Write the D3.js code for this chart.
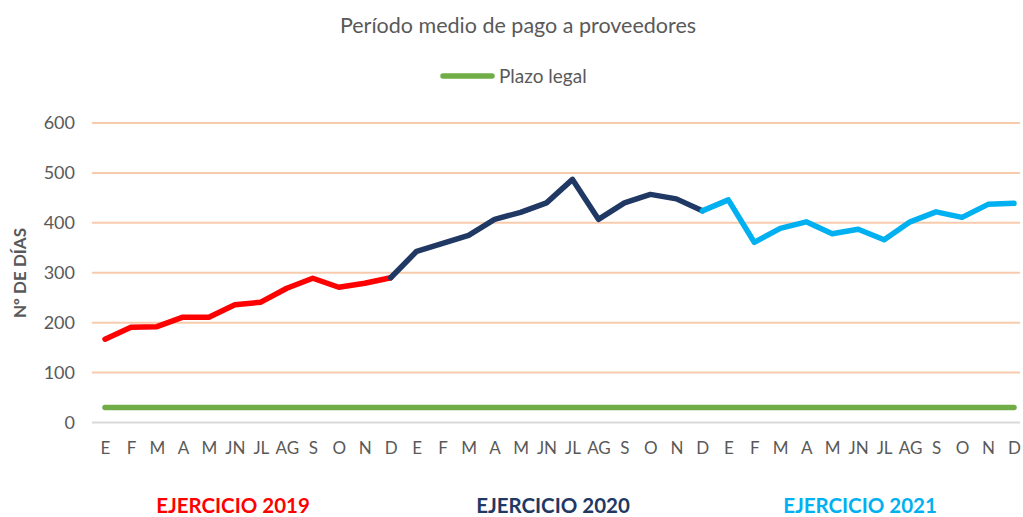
<!DOCTYPE html>
<head>
  <meta charset="utf-8">
  <script src="https://d3js.org/d3.v7.min.js"></script>
  <style>
    body { margin: 0; background: #fff; }
    svg { display: block; font-family: Lato, "Open Sans", sans-serif; }
  </style>
</head>

<body>
  <svg width="1023" height="517"></svg>
  <script>
    // data
    var months = ["E", "F", "M", "A", "M", "JN", "JL", "AG", "S", "O", "N", "D"];
    var years = ["2019", "2020", "2021"];
    var yearColors = ["#ff0000", "#1f3864", "#00b0f0"];
    var v2019 = [167, 191, 192, 211, 211, 236, 241, 269, 289, 271, 279, 290];
    var v2020 = [343, 359, 375, 407, 421, 440, 487, 407, 440, 457, 448, 424];
    var v2021 = [446, 361, 389, 402, 378, 387, 366, 402, 422, 411, 437, 439];
    var plazoLegal = 30;
    var yTicks = [0, 100, 200, 300, 400, 500, 600];

    // options
    var margin = { top: 123, right: 3, bottom: 94, left: 92 };
    var width = 1023, height = 517;

    var svg = d3.select('svg');

    var cats = [];
    years.forEach(function(y) {
      months.forEach(function(m, mi) { cats.push(y + '-' + mi); });
    });
    var values = v2019.concat(v2020, v2021);
    var points = values.map(function(v, i) { return { key: cats[i], v: v }; });

    // scales
    var xScale = d3.scalePoint()
      .domain(cats)
      .range([105, 1014]);
    var yScale = d3.scaleLinear()
      .domain([0, 600])
      .range([height - margin.bottom - 0.5, margin.top]);

    // grid
    svg.append('g').selectAll('line')
      .data(yTicks)
      .enter().append('line')
      .attr('x1', margin.left)
      .attr('x2', width - margin.right)
      .attr('y1', function(d) { return yScale(d); })
      .attr('y2', function(d) { return yScale(d); })
      .attr('stroke', function(d) { return d === 0 ? '#d9d9d9' : '#f8cbad'; })
      .attr('stroke-width', 2);

    // y axis labels
    var yAxis = d3.axisLeft(yScale).tickValues(yTicks).tickSize(0).tickPadding(0);
    var yg = svg.append('g')
      .attr('transform', 'translate(' + [75, 0] + ')')
      .call(yAxis);
    yg.select('.domain').remove();
    yg.selectAll('text')
      .attr('fill', '#595959')
      .style('font-size', '18px')
      .style('font-family', 'Lato, sans-serif');

    // x axis labels
    var xAxis = d3.axisBottom(xScale).tickSize(0).tickPadding(0)
      .tickFormat(function(d) { return months[+d.split('-')[1]]; });
    var xg = svg.append('g')
      .attr('transform', 'translate(' + [0, 442] + ')')
      .call(xAxis);
    xg.select('.domain').remove();
    xg.selectAll('text')
      .attr('fill', '#595959')
      .style('font-size', '17px')
      .style('font-family', 'Lato, sans-serif');

    // plazo legal line
    var line = d3.line()
      .x(function(d) { return xScale(d.key); })
      .y(function(d) { return yScale(d.v); });

    svg.append('path')
      .datum(cats.map(function(c) { return { key: c, v: plazoLegal }; }))
      .attr('d', line)
      .attr('fill', 'none')
      .attr('stroke', '#70ad47')
      .attr('stroke-width', 5.5)
      .attr('stroke-linecap', 'round');

    // year segments
    years.forEach(function(y, yi) {
      var start = yi === 0 ? 0 : yi * 12 - 1;
      var seg = points.slice(start, yi * 12 + 12);
      svg.append('path')
        .datum(seg)
        .attr('d', line)
        .attr('fill', 'none')
        .attr('stroke', yearColors[yi])
        .attr('stroke-width', 5.5)
        .attr('stroke-linejoin', 'round')
        .attr('stroke-linecap', 'round');
    });

    // title
    svg.append('text')
      .attr('x', 518).attr('y', 33)
      .attr('text-anchor', 'middle')
      .attr('fill', '#595959')
      .style('font-size', '21.5px')
      .text('Período medio de pago a proveedores');

    // legend
    svg.append('line')
      .attr('x1', 443).attr('x2', 492)
      .attr('y1', 76).attr('y2', 76)
      .attr('stroke', '#70ad47')
      .attr('stroke-width', 5.5)
      .attr('stroke-linecap', 'round');
    svg.append('text')
      .attr('x', 499).attr('y', 83)
      .attr('fill', '#595959')
      .style('font-size', '19px')
      .text('Plazo legal');

    // axis title
    svg.append('text')
      .attr('transform', 'translate(26,273) rotate(-90)')
      .attr('text-anchor', 'middle')
      .attr('fill', '#595959')
      .style('font-size', '17px')
      .style('font-weight', 'bold')
      .text('Nº DE DÍAS');

    // year labels
    var yearX = [233, 553, 860];
    years.forEach(function(y, yi) {
      svg.append('text')
        .attr('x', yearX[yi]).attr('y', 513)
        .attr('text-anchor', 'middle')
        .attr('fill', yearColors[yi])
        .style('font-size', '20.5px')
        .style('font-weight', 'bold')
        .text('EJERCICIO ' + y);
    });
  </script>
</body>
</html>
